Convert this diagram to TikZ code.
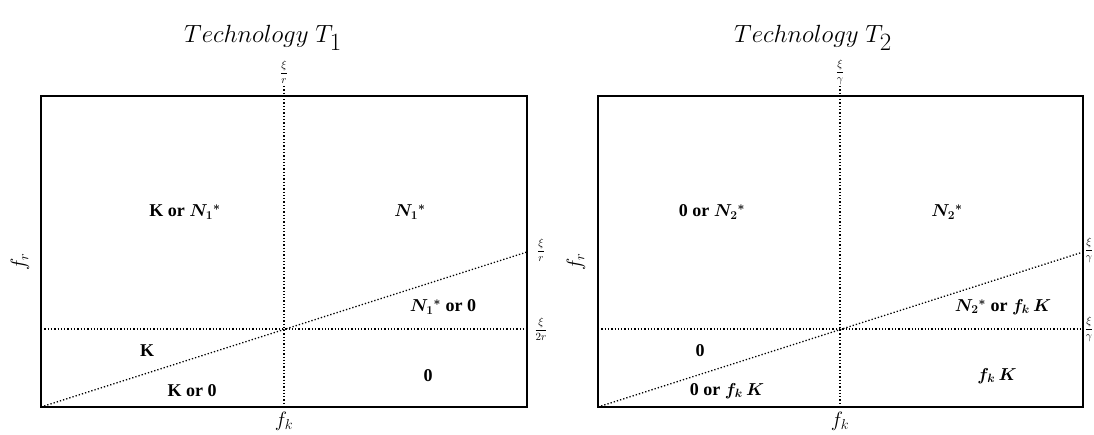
\documentclass[tikz,border=0pt]{standalone}
\usepackage{fontspec}
\setmainfont{Liberation Serif}
\begin{document}
\begin{tikzpicture}[x=1pt,y=-1pt,
  frame/.style={draw=black,line width=1.8pt},
  guide/.style={draw=black,dotted,line width=1.3pt},
  title/.style={font=\fontsize{34}{36}\selectfont},
  region/.style={font=\bfseries\boldmath\fontsize{18}{20}\selectfont,inner sep=1pt},
  axislbl/.style={font=\fontsize{20}{22}\selectfont,inner sep=1pt},
  tick/.style={font=\fontsize{11}{12}\selectfont,inner sep=0.5pt}]
\useasboundingbox (0,0) rectangle (1094,435);
\fill[white] (0,0) rectangle (1094,435);
% ---------- left panel ----------
\coordinate (LA) at (41,96);
\coordinate (LB) at (527,407);
\coordinate (LTop) at (284,86);
\coordinate (LBot) at (284,407);
\coordinate (LHl) at (41,329);
\coordinate (LHr) at (527,329);
\coordinate (LDl) at (41,407);
\coordinate (LDr) at (527,252);
\node[title] (t1) at (263,38) {$Technology\;T_1$};
\draw[guide] (LTop) -- (LBot);
\draw[guide] (LHl) -- (LHr);
\draw[guide] (LDl) -- (LDr);
\draw[frame] (LA) rectangle (LB);
\node[tick] (l1) at (284,72) {$\displaystyle\frac{\xi}{r}$};
\node[tick] (l2) at (541,250) {$\displaystyle\frac{\xi}{r}$};
\node[tick] (l3) at (541,329) {$\displaystyle\frac{\xi}{2r}$};
\node[axislbl,rotate=90] (fr1) at (20,262) {$f_r$};
\node[axislbl] (fk1) at (284,421) {$f_k$};
\node[region] (r11) at (185,212) {K or $N_1{}^{*}$};
\node[region] (r12) at (410,212) {$N_1{}^{*}$};
\node[region] (r13) at (443,307) {$N_1{}^{*}$ or 0};
\node[region] (r14) at (147,351) {K};
\node[region] (r15) at (192,391) {K or 0};
\node[region] (r16) at (428,376) {0};
% ---------- right panel ----------
\coordinate (RA) at (598,96);
\coordinate (RB) at (1083,407);
\coordinate (RTop) at (840,86);
\coordinate (RBot) at (840,407);
\coordinate (RHl) at (598,329);
\coordinate (RHr) at (1083,329);
\coordinate (RDl) at (598,407);
\coordinate (RDr) at (1083,252);
\node[title] (t2) at (813,38) {$Technology\;T_2$};
\draw[guide] (RTop) -- (RBot);
\draw[guide] (RHl) -- (RHr);
\draw[guide] (RDl) -- (RDr);
\draw[frame] (RA) rectangle (RB);
\node[tick] (m1) at (840,72) {$\displaystyle\frac{\xi}{\gamma}$};
\node[tick] (m2) at (1089,250) {$\displaystyle\frac{\xi}{\gamma}$};
\node[tick] (m3) at (1089,329) {$\displaystyle\frac{\xi}{\gamma}$};
\node[axislbl,rotate=90] (fr2) at (576,262) {$f_r$};
\node[axislbl] (fk2) at (840,421) {$f_k$};
\node[region] (r21) at (712,212) {0 or $N_2{}^{*}$};
\node[region] (r22) at (947,212) {$N_2{}^{*}$};
\node[region] (r23) at (1003,307) {$N_2{}^{*}$ or $f_k\,K$};
\node[region] (r24) at (700,351) {0};
\node[region] (r25) at (727,391) {0 or $f_k\,K$};
\node[region] (r26) at (997,376) {$f_k\,K$};
\end{tikzpicture}
\end{document}
